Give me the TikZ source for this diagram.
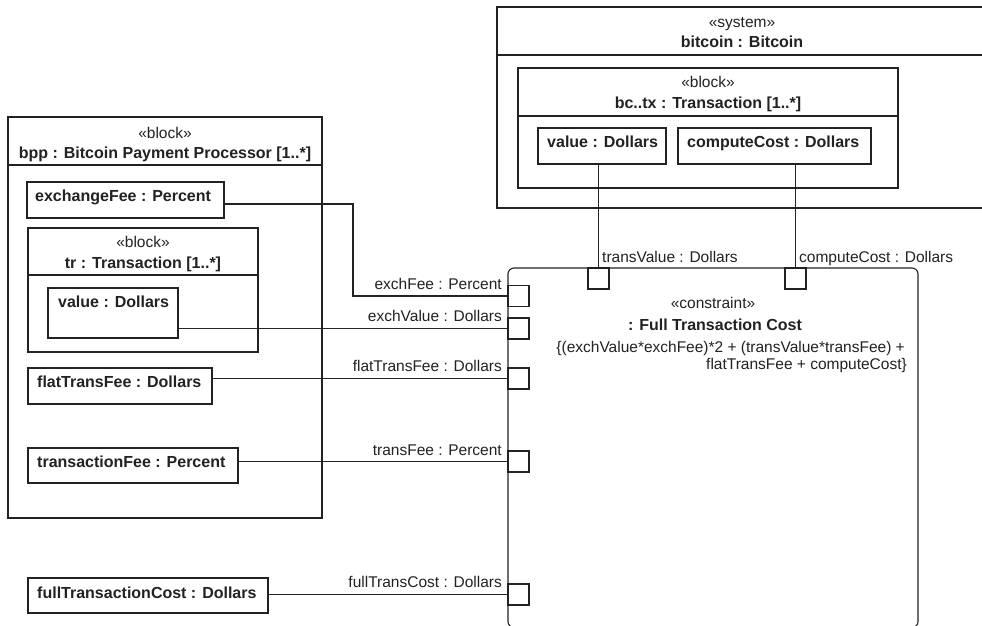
\documentclass[tikz,border=0pt]{standalone}
\usepackage{fontspec}
\setmainfont{Liberation Sans}
\usetikzlibrary{calc}
\definecolor{ink}{HTML}{222222}
\tikzset{
  frame/.style={draw=ink, line width=1.1pt, rectangle, anchor=north west, inner sep=0pt, outer sep=0pt},
  port/.style={draw=ink, line width=1.1pt, fill=white, rectangle, anchor=north west, inner sep=0pt, outer sep=0pt, minimum width=21pt, minimum height=21pt},
  ptext/.style={anchor=base west, inner sep=0pt, font=\fontsize{16}{19}\selectfont\bfseries, text=ink},
  htext/.style={anchor=base, inner sep=0pt, font=\fontsize{15.5}{19}\selectfont, text=ink},
  hbold/.style={anchor=base, inner sep=0pt, font=\fontsize{16}{19}\selectfont\bfseries, text=ink},
  ltext/.style={inner sep=0pt, font=\fontsize{15.5}{19}\selectfont, text=ink},
  wire/.style={draw=ink, line width=1.1pt}
}
\begin{document}
\begin{tikzpicture}[x=1pt,y=-1pt]
\useasboundingbox (0,0) rectangle (982,626);
\clip (0,0) rectangle (982,626);
\fill[white] (0,0) rectangle (982,626);

% system bitcoin
\node[frame, minimum width=492pt, minimum height=201pt] (sys) at (497,7) {};
\draw[wire] (497,55) -- (989,55);
\node[htext] (sysst) at (742,28) {«system»};
\node[hbold] (sysnm) at (742,48) {bitcoin : Bitcoin};

% bc..tx block
\node[frame, minimum width=380pt, minimum height=120pt] (bctx) at (518,68) {};
\draw[wire] (518,116) -- (898,116);
\node[htext] (bctxst) at (708,87) {«block»};
\node[hbold] (bctxnm) at (708,108) {bc..tx : Transaction [1..*]};
\node[frame, minimum width=128pt, minimum height=36pt] (bcv) at (538,128) {};
\node[ptext] (bcvt) at (547,147.5) {value : Dollars};
\node[frame, minimum width=193pt, minimum height=36pt] (bcc) at (678,128) {};
\node[ptext] (bcct) at (687,147.5) {computeCost : Dollars};

% bpp block
\node[frame, minimum width=314pt, minimum height=401pt] (bpp) at (8,117) {};
\draw[wire] (8,165) -- (322,165);
\node[htext] (bppst) at (165,138) {«block»};
\node[hbold] (bppnm) at (165,158) {bpp : Bitcoin Payment Processor [1..*]};

\node[frame, minimum width=197pt, minimum height=36pt] (xf) at (27,182) {};
\node[ptext] (xft) at (35,201.5) {exchangeFee : Percent};

\node[frame, minimum width=230pt, minimum height=124pt] (tr) at (28,228) {};
\draw[wire] (28,275) -- (258,275);
\node[htext] (trst) at (143,247) {«block»};
\node[hbold] (trnm) at (143,268) {tr : Transaction [1..*]};
\node[frame, minimum width=130pt, minimum height=50pt] (trv) at (48,288) {};
\node[ptext] (trvt) at (58,307.5) {value : Dollars};

\node[frame, minimum width=184pt, minimum height=36pt] (ft) at (28,368) {};
\node[ptext] (ftt) at (37,387) {flatTransFee : Dollars};

\node[frame, minimum width=210pt, minimum height=35pt] (tf) at (28,448) {};
\node[ptext] (tft) at (37,467) {transactionFee : Percent};

\node[frame, minimum width=240pt, minimum height=35pt] (fc) at (28,578) {};
\node[ptext] (fct) at (37,598) {fullTransactionCost : Dollars};

% constraint
\draw[wire, rounded corners=6pt] (508,268) rectangle (918,627.5);
\node[htext] (cst) at (713,308) {«constraint»};
\node[hbold] (cnm) at (715,330) {: Full Transaction Cost};
\node[ltext, anchor=base east] (cf1) at (905,352) {\{(exchValue*exchFee)*2 + (transValue*transFee) +};
\node[ltext, anchor=base east] (cf2) at (907,369) {flatTransFee + computeCost\}};

% ports
\node[port] (pT1) at (588,268) {};
\node[port] (pT2) at (785,268) {};
\node[port] (pL1) at (508,285.5) {};
\node[port] (pL2) at (508,318) {};
\node[port] (pL3) at (508,368) {};
\node[port] (pL4) at (508,451) {};
\node[port] (pL5) at (508,584) {};

% connectors
\draw[wire] (pT1.north |- bcv.south) -- (pT1.north);
\draw[wire] (pT2.north |- bcc.south) -- (pT2.north);
\coordinate (bend) at (353,296);
\draw[wire] (xf.east |- 0,204) -- (bend |- 0,204) -- (bend) -- (pL1.west);
\draw[wire] (trv.east |- pL2.west) -- (pL2.west);
\draw[wire] (ft.east |- pL3.west) -- (pL3.west);
\draw[wire] (tf.east |- pL4.west) -- (pL4.west);
\draw[wire] (fc.east |- pL5.west) -- (pL5.west);

% connector labels
\node[ltext, anchor=base west] (lT1) at (602,262) {transValue : Dollars};
\node[ltext, anchor=base west] (lT2) at (799,262) {computeCost : Dollars};
\node[ltext, anchor=base east] (lL1) at (502,289) {exchFee : Percent};
\node[ltext, anchor=base east] (lL2) at (502,321) {exchValue : Dollars};
\node[ltext, anchor=base east] (lL3) at (502,371) {flatTransFee : Dollars};
\node[ltext, anchor=base east] (lL4) at (502,455) {transFee : Percent};
\node[ltext, anchor=base east] (lL5) at (502,587) {fullTransCost : Dollars};
\end{tikzpicture}
\end{document}
